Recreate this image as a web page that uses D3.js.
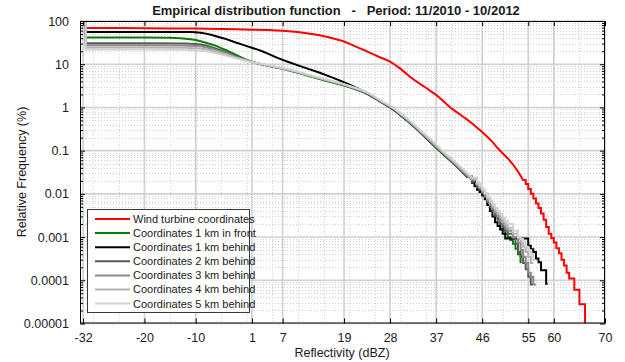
<!DOCTYPE html>
<html><head><meta charset="utf-8">
<script src="https://cdn.jsdelivr.net/npm/d3@7"></script>
<style>body{margin:0;background:#fff} svg{display:block;font-family:"Liberation Sans",Arial,sans-serif}</style>
</head><body><svg id="c" width="625" height="362"></svg>
<script>
const titleText = "Empirical distribution function   -   Period: 11/2010 - 10/2012";
const xLabel = "Reflectivity (dBZ)";
const yLabel = "Relative Frequency (%)";
const xTicks = [-32,-20,-10,1,7,19,28,37,46,55,60,70];
const xTickLabels = ["-32","-20","-10","1","7","19","28","37","46","55","60","70"];
const yTicks = [0.00001,0.0001,0.001,0.01,0.1,1,10,100];
const yTickLabels = ["0.00001","0.0001","0.001","0.01","0.1","1","10","100"];
const seriesNames = ["Wind turbine coordinates","Coordinates 1 km in front","Coordinates 1 km behind","Coordinates 2 km behind","Coordinates 3 km behind","Coordinates 4 km behind","Coordinates 5 km behind"];
const seriesColors = ["#ff0000","#008000","#000000","#5a5a5a","#8a8a8a","#b2b2b2","#d2d2d2"];

const windTurbine = [[-32,100],[-31.5,69],[-25,68.5],[-20,68],[-15,67.5],[-10,67],[-5,65.5],[-2,64.5],[1,63],[4,61.5],[7,59.5],[10,55.5],[12,51.5],[14,47.5],[16,42],[18,36.5],[19,33.5],[20,30],[21,26.5],[22,23.5],[23,21],[24,18.5],[25,16.5],[26,14.5],[27,13],[28,11.5],[29,9.6],[30,7.9],[31,6.3],[32,5.0],[33,4.1],[34,3.4],[35,2.85],[36,2.35],[37,1.95],[38,1.55],[39,1.2],[40,0.95],[41,0.78],[42,0.64],[43,0.53],[44,0.43],[45,0.34],[46,0.27],[47,0.21],[48,0.16],[49,0.115],[50,0.087],[51,0.066],[52,0.048],[53,0.033],[54,0.021],[54.5,0.017],[55,0.013],[55.5,0.01],[56,0.0078],[56.5,0.006],[57,0.0047],[57.5,0.0035],[58,0.0025],[58.5,0.0017],[59,0.0012],[59.5,0.00095],[60,0.00075],[60.5,0.00055],[61,0.00042],[61.5,0.0003],[62,0.00022],[62.5,0.00015],[63,0.00011],[64,0.00006],[65,0.000028],[66.1,0.000001]];

const front1km = [[-32,100],[-31.5,41.5],[-20,41.5],[-15,41],[-13,40],[-12,39],[-11,38],[-10,36.5],[-9,34],[-8,31.5],[-7,29],[-6,26.5],[-5,23.5],[-4,21],[-3,18.5],[-2,16.2],[-1,14.2],[0,12.6],[1,11.4],[2,10.5],[3,9.8],[5,8.7],[7,7.8],[10,6.3],[13,5.0],[16,4.0],[19,3.2],[21,2.7],[23,2.2],[24,1.9],[25,1.63],[26,1.38],[27,1.17],[28,1.0],[29,0.82],[30,0.66],[31,0.53],[32,0.42],[33,0.33],[34,0.255],[35,0.195],[36,0.15],[37,0.115],[38,0.09],[39,0.07],[40,0.055],[41,0.043],[42,0.033],[43,0.025],[44,0.019],[45,0.014],[45.5,0.012],[46,0.0105],[46.5,0.0085],[47,0.007],[47.5,0.0055],[48,0.0045],[48.5,0.0035],[49,0.0027],[49.5,0.002],[50,0.0015],[50.5,0.0012],[51,0.001],[51.5,0.00085],[52,0.0007],[52.5,0.00054],[53,0.0004],[53.5,0.00026],[53.7,0.00026]];

const behind1km = [[-32,100],[-31.5,56],[-20,56],[-11,55.5],[-10,55],[-9,53.5],[-8,51],[-7,48],[-6,44.5],[-5,41],[-4,38],[-3,34.5],[-2,31.5],[-1,28.7],[0,26.2],[1,24],[2,22],[3,20],[4,17.8],[5,15.8],[6,14],[7,12.6],[8,11.4],[10,9.4],[12,7.8],[14,6.5],[16,5.3],[18,4.3],[20,3.4],[22,2.65],[23,2.3],[24,1.95],[25,1.66],[26,1.4],[27,1.19],[28,1.02],[29,0.84],[30,0.68],[31,0.54],[32,0.43],[33,0.34],[34,0.26],[35,0.2],[36,0.155],[37,0.12],[38,0.093],[39,0.072],[40,0.057],[41,0.044],[42,0.034],[43,0.025],[44,0.018],[44.5,0.015],[45,0.0125],[45.5,0.011],[46,0.0092],[46.5,0.0075],[47,0.0055],[47.5,0.004],[48,0.003],[48.5,0.0022],[49,0.0018],[49.5,0.0015],[50,0.0012],[50.5,0.00093],[55,0.00063],[55.5,0.00052],[56,0.00045],[56.5,0.00032],[57,0.00026],[57.5,0.00017],[58.5,0.000083],[58.8,0.000083]];

const behind2km = [[-32,100],[-31.5,30.5],[-20,30.5],[-12,30],[-10,29.5],[-9,28.5],[-8,27],[-7,25],[-6,23],[-5,20.8],[-4,18.7],[-3,16.8],[-2,15],[-1,13.5],[0,12.3],[1,11.3],[2,10.5],[3,9.9],[5,8.8],[7,7.9],[10,6.4],[13,5.1],[16,4.1],[19,3.3],[21,2.75],[23,2.25],[24,1.95],[25,1.67],[26,1.41],[27,1.2],[28,1.03],[29,0.85],[30,0.68],[31,0.55],[32,0.43],[33,0.34],[34,0.26],[35,0.2],[36,0.155],[37,0.12],[38,0.093],[39,0.072],[40,0.056],[41,0.043],[42,0.033],[43,0.025],[44,0.019],[45,0.014],[45.5,0.0125],[46,0.0105],[46.5,0.0085],[47,0.0065],[47.5,0.005],[48,0.004],[48.5,0.0031],[49,0.0025],[49.5,0.002],[50,0.0017],[50.5,0.0014],[51,0.0012],[52,0.00095],[52.5,0.0007],[53,0.00045],[53.5,0.00035],[54,0.00025],[54.5,0.00018],[55,0.00012],[55.5,0.00008],[56,0.00008]];

const behind3km = [[-32,100],[-31.5,27.5],[-20,27.5],[-12,27],[-10,26.5],[-9,26],[-8,24.8],[-7,23.2],[-6,21.5],[-5,19.7],[-4,17.9],[-3,16.2],[-2,14.6],[-1,13.3],[0,12.2],[1,11.3],[2,10.6],[3,10],[5,8.9],[7,8.0],[10,6.5],[13,5.15],[16,4.15],[19,3.35],[21,2.8],[23,2.3],[24,2.0],[25,1.7],[26,1.43],[27,1.22],[28,1.05],[29,0.87],[30,0.7],[31,0.56],[32,0.44],[33,0.35],[34,0.27],[35,0.21],[36,0.16],[37,0.125],[38,0.097],[39,0.075],[40,0.059],[41,0.046],[42,0.035],[43,0.027],[44,0.021],[45,0.016],[45.5,0.0135],[46,0.011],[46.5,0.009],[47,0.007],[47.5,0.0057],[48,0.0045],[48.5,0.0037],[49,0.003],[49.5,0.0024],[50,0.002],[50.5,0.0016],[51,0.0014],[52,0.001],[53,0.00075],[53.5,0.0005],[54,0.00035],[54.5,0.00025],[55,0.00015],[55.5,0.00012],[56,0.00008],[56.5,0.00008]];

const behind4km = [[-32,100],[-31.5,24.5],[-20,24.5],[-12,24],[-10,23.5],[-9,23],[-8,22.2],[-7,21],[-6,19.6],[-5,18.2],[-4,16.8],[-3,15.4],[-2,14.1],[-1,13],[0,12.1],[1,11.2],[2,10.6],[3,10.1],[5,9.0],[7,8.1],[10,6.6],[13,5.2],[16,4.2],[19,3.4],[21,2.85],[23,2.35],[24,2.05],[25,1.74],[26,1.46],[27,1.25],[28,1.07],[29,0.89],[30,0.72],[31,0.58],[32,0.46],[33,0.36],[34,0.28],[35,0.22],[36,0.17],[37,0.13],[38,0.1],[39,0.078],[40,0.062],[41,0.048],[42,0.037],[43,0.029],[44,0.022],[45,0.017],[45.5,0.0145],[46,0.012],[46.5,0.0098],[47,0.0078],[47.5,0.0063],[48,0.005],[48.5,0.0041],[49,0.0034],[49.5,0.0028],[50,0.0023],[50.5,0.0019],[51,0.0016],[52,0.0012],[53,0.00095],[53.5,0.0008],[54,0.0006],[54.5,0.00045],[55,0.00035],[55.5,0.00025],[56,0.00025]];

const behind5km = [[-32,100],[-31.5,21.8],[-20,21.8],[-12,21.5],[-10,21],[-9,20.6],[-8,20],[-7,19.1],[-6,18],[-5,16.9],[-4,15.7],[-3,14.6],[-2,13.6],[-1,12.7],[0,11.9],[1,11.1],[2,10.6],[3,10.1],[5,9.1],[7,8.2],[10,6.7],[13,5.3],[16,4.3],[19,3.45],[21,2.9],[23,2.4],[24,2.1],[25,1.78],[26,1.5],[27,1.28],[28,1.1],[29,0.91],[30,0.74],[31,0.6],[32,0.48],[33,0.38],[34,0.29],[35,0.23],[36,0.18],[37,0.14],[38,0.107],[39,0.083],[40,0.066],[41,0.052],[42,0.04],[43,0.031],[44,0.024],[45,0.018],[45.5,0.0155],[46,0.013],[46.5,0.0105],[47,0.0085],[47.5,0.007],[48,0.0057],[48.5,0.0047],[49,0.004],[49.5,0.0034],[50,0.0028],[50.5,0.0024],[51,0.002],[52,0.0014],[53,0.001],[53.5,0.0009],[54,0.0008],[54.5,0.0006],[55,0.0005],[55.5,0.0004],[56,0.0003],[56.3,0.0003]];

const seriesData = [windTurbine, front1km, behind1km, behind2km, behind3km, behind4km, behind5km];

const W=625,H=362;
const m={left:80,right:605,top:21,bottom:323.5};
const x=d3.scaleLinear().domain([-32.6,70]).range([m.left,m.right]);
const y=d3.scaleLog().domain([1e-5,100]).range([m.bottom,m.top]);
const svg=d3.select('#c');
svg.append('rect').attr('width',W).attr('height',H).attr('fill','#fff');
svg.append('defs').append('clipPath').attr('id','clip').append('rect')
  .attr('x',m.left).attr('y',m.top).attr('width',m.right-m.left).attr('height',m.bottom-m.top);

const grid=svg.append('g');
const minorY=[]; for(let e=-5;e<2;e++) for(let k=2;k<=9;k++) minorY.push(k*Math.pow(10,e));
grid.selectAll('line.my').data(minorY).enter().append('line')
  .attr('x1',m.left).attr('x2',m.right).attr('y1',d=>Math.round(y(d))+0.5).attr('y2',d=>Math.round(y(d))+0.5)
  .attr('stroke','#cfcfcf').attr('stroke-width',1).attr('stroke-dasharray','1,2');
const minorX=d3.range(-30,70,5);
grid.selectAll('line.mx').data(minorX).enter().append('line')
  .attr('y1',m.top).attr('y2',m.bottom).attr('x1',d=>Math.round(x(d))+0.5).attr('x2',d=>Math.round(x(d))+0.5)
  .attr('stroke','#d4d4d4').attr('stroke-width',1).attr('stroke-dasharray','1,2');
grid.selectAll('line.gy').data(yTicks).enter().append('line')
  .attr('x1',m.left).attr('x2',m.right).attr('y1',d=>y(d)).attr('y2',d=>y(d))
  .attr('stroke','#d0d0d0').attr('stroke-width',1.6);
grid.selectAll('line.gx').data(xTicks).enter().append('line')
  .attr('y1',m.top).attr('y2',m.bottom).attr('x1',d=>x(d)).attr('x2',d=>x(d))
  .attr('stroke','#d0d0d0').attr('stroke-width',1.6);

function pathFor(data){
  let p='M'+x(data[0][0])+','+y(data[0][1]);
  for(let i=1;i<data.length;i++){
    const [dx,dv]=data[i];
    const prev=data[i-1];
    if(i===1 || dv<0.02 || prev[1]<0.02){
      p+='H'+x(dx)+'V'+y(dv);
    } else {
      p+='L'+x(dx)+','+y(dv);
    }
  }
  return p;
}
const lines=svg.append('g').attr('clip-path','url(#clip)');
seriesData.forEach((s,i)=>{
  lines.append('path').attr('d',pathFor(s)).attr('fill','none')
    .attr('stroke',seriesColors[i]).attr('stroke-width',2).attr('stroke-linejoin','miter');
});

svg.append('rect').attr('x',m.left+0.5).attr('y',m.top+0.5).attr('width',m.right-m.left-1).attr('height',m.bottom-m.top-1)
  .attr('fill','none').attr('stroke','#000').attr('stroke-width',1);

const xAxisB=d3.axisBottom(x).tickValues(xTicks).tickFormat((d,i)=>xTickLabels[i]).tickSizeInner(-5).tickSizeOuter(0).tickPadding(10);
svg.append('g').attr('transform',`translate(0,${m.bottom})`).call(xAxisB);
const xAxisT=d3.axisTop(x).tickValues(xTicks).tickSizeInner(-5).tickSizeOuter(0).tickFormat('');
svg.append('g').attr('transform',`translate(0,${m.top})`).call(xAxisT);
const yAxisL=d3.axisLeft(y).tickValues(yTicks).tickFormat((d,i)=>yTickLabels[i]).tickSizeInner(-5).tickSizeOuter(0).tickPadding(11);
svg.append('g').attr('transform',`translate(${m.left},0)`).call(yAxisL);
const yAxisR=d3.axisRight(y).tickValues(yTicks).tickFormat('').tickSizeInner(-5).tickSizeOuter(0);
svg.append('g').attr('transform',`translate(${m.right},0)`).call(yAxisR);
const yMinL=d3.axisLeft(y).tickValues(minorY).tickFormat('').tickSizeInner(-3).tickSizeOuter(0);
svg.append('g').attr('transform',`translate(${m.left},0)`).call(yMinL);
const yMinR=d3.axisRight(y).tickValues(minorY).tickFormat('').tickSizeInner(-3).tickSizeOuter(0);
svg.append('g').attr('transform',`translate(${m.right},0)`).call(yMinR);
svg.selectAll('.domain').remove();
svg.selectAll('.tick line').attr('stroke','#000');
svg.selectAll('.tick text').attr('font-size',12.5).attr('fill','#1a1a1a').attr('font-family','"Liberation Sans",Arial,sans-serif');

svg.append('text').attr('x',336).attr('y',15).attr('text-anchor','middle').attr('font-size',13).attr('font-weight','bold')
  .style('white-space','pre').attr('fill','#1a1a1a').text(titleText);
svg.append('text').attr('x',342).attr('y',357).attr('text-anchor','middle').attr('font-size',12.5).attr('fill','#1a1a1a').text(xLabel);
svg.append('text').attr('transform','translate(26,172) rotate(-90)').attr('text-anchor','middle').attr('font-size',12.5).attr('fill','#1a1a1a').text(yLabel);

const lg=svg.append('g');
lg.append('rect').attr('x',87.5).attr('y',209.5).attr('width',162).attr('height',103).attr('fill','#fff').attr('stroke','#3a3a3a');
seriesNames.forEach((n,i)=>{
  const yy=219+i*14.1;
  lg.append('line').attr('x1',95).attr('x2',130).attr('y1',yy).attr('y2',yy).attr('stroke',seriesColors[i]).attr('stroke-width',2);
  lg.append('text').attr('x',133).attr('y',yy).attr('dy','0.36em').attr('font-size',11).attr('fill','#1a1a1a').text(n);
});
</script></body></html>
